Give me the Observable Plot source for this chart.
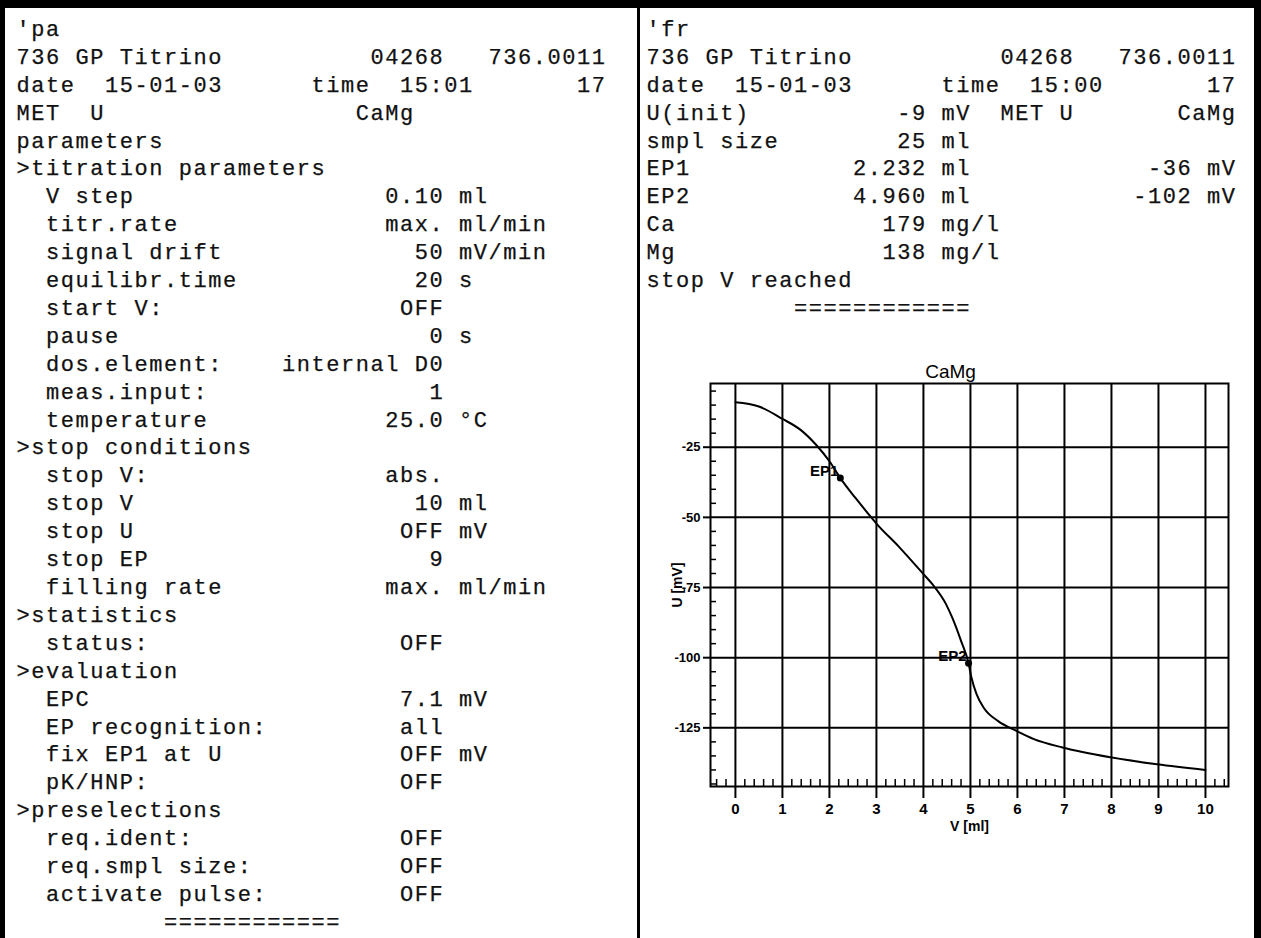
<!DOCTYPE html>
<html>
<head>
<meta charset="utf-8">
<script src="https://cdn.jsdelivr.net/npm/d3@7"></script>
<script src="https://cdn.jsdelivr.net/npm/@observablehq/plot@0.6"></script>
<style>
  html, body { margin: 0; padding: 0; background: #fff; }
  #page { position: relative; width: 1261px; height: 938px; overflow: hidden; background: #fff; }
  .bar { position: absolute; background: #000; z-index: 5; }
  pre.print {
    position: absolute; margin: 0; z-index: 3;
    font-family: "Liberation Mono", "DejaVu Sans Mono", monospace;
    font-size: 22px; letter-spacing: 1.55px; line-height: 27.9px;
    color: #111; white-space: pre; -webkit-text-stroke: 0.25px #111;
  }
  #chart { position: absolute; left: 640px; top: 340px; z-index: 2; }
</style>
</head>
<body>
<div id="page">
  <pre class="print" id="leftText" style="left:16.5px; top:16.9px;"></pre>
  <pre class="print" id="rightText" style="left:646.5px; top:16.9px;"></pre>
  <div id="chart"></div>
  <div class="bar" style="left:0; top:0; width:1261px; height:8px;"></div>
  <div class="bar" style="left:0; top:0; width:5px; height:938px;"></div>
  <div class="bar" style="left:637px; top:0; width:3px; height:938px;"></div>
  <div class="bar" style="left:1254px; top:0; width:7px; height:938px;"></div>
</div>
<script>
// ---------- printout text (column, text) ----------
const leftRows = [
  [[0, "'pa"]],
  [[0, "736 GP Titrino"], [24, "04268"], [32, "736.0011"]],
  [[0, "date  15-01-03"], [20, "time  15:01"], [38, "17"]],
  [[0, "MET  U"], [23, "CaMg"]],
  [[0, "parameters"]],
  [[0, ">titration parameters"]],
  [[2, "V step"], [25, "0.10 ml"]],
  [[2, "titr.rate"], [25, "max. ml/min"]],
  [[2, "signal drift"], [27, "50 mV/min"]],
  [[2, "equilibr.time"], [27, "20 s"]],
  [[2, "start V:"], [26, "OFF"]],
  [[2, "pause"], [28, "0 s"]],
  [[2, "dos.element:"], [18, "internal D0"]],
  [[2, "meas.input:"], [28, "1"]],
  [[2, "temperature"], [25, "25.0 °C"]],
  [[0, ">stop conditions"]],
  [[2, "stop V:"], [25, "abs."]],
  [[2, "stop V"], [27, "10 ml"]],
  [[2, "stop U"], [26, "OFF mV"]],
  [[2, "stop EP"], [28, "9"]],
  [[2, "filling rate"], [25, "max. ml/min"]],
  [[0, ">statistics"]],
  [[2, "status:"], [26, "OFF"]],
  [[0, ">evaluation"]],
  [[2, "EPC"], [26, "7.1 mV"]],
  [[2, "EP recognition:"], [26, "all"]],
  [[2, "fix EP1 at U"], [26, "OFF mV"]],
  [[2, "pK/HNP:"], [26, "OFF"]],
  [[0, ">preselections"]],
  [[2, "req.ident:"], [26, "OFF"]],
  [[2, "req.smpl size:"], [26, "OFF"]],
  [[2, "activate pulse:"], [26, "OFF"]],
  [[10, "============"]]
];
const rightRows = [
  [[0, "'fr"]],
  [[0, "736 GP Titrino"], [24, "04268"], [32, "736.0011"]],
  [[0, "date  15-01-03"], [20, "time  15:00"], [38, "17"]],
  [[0, "U(init)"], [17, "-9 mV  MET U"], [36, "CaMg"]],
  [[0, "smpl size"], [17, "25 ml"]],
  [[0, "EP1"], [14, "2.232 ml"], [34, "-36 mV"]],
  [[0, "EP2"], [14, "4.960 ml"], [33, "-102 mV"]],
  [[0, "Ca"], [16, "179 mg/l"]],
  [[0, "Mg"], [16, "138 mg/l"]],
  [[0, "stop V reached"]],
  [[10, "============"]]
];

// ---------- titration curve data ----------
const volume = [0, 0.5, 1.0, 1.4, 1.73, 2.0, 2.232, 2.55, 2.84, 3.0, 3.48, 4.0, 4.19, 4.48, 4.62, 4.8, 4.96, 5.02, 5.13, 5.29, 5.59, 5.97, 6.35, 6.96, 7.98, 8.97, 10.0];
const potential = [-9, -10.5, -14.9, -19, -24.4, -30.0, -36, -43.0, -49.0, -52.2, -60.5, -70.2, -73.8, -80.9, -86.0, -94, -102, -107, -113, -118, -122.6, -126, -129, -132, -135.5, -138, -140];

const epLabels = ["EP1", "EP2"];
const epVolume = [2.232, 4.960];
const epPotential = [-36, -102];

const xTicks = [0, 1, 2, 3, 4, 5, 6, 7, 8, 9, 10];
const yTicks = [-25, -50, -75, -100, -125];
const chartTitle = "CaMg";
const xLabel = "V [ml]";
const yLabel = "U [mV]";

// ---------- build text ----------
function rowText(segs) {
  let s = "";
  for (const [col, t] of segs) { s = s.padEnd(col, " ") + t; }
  return s;
}
document.getElementById("leftText").textContent = leftRows.map(rowText).join("\n");
document.getElementById("rightText").textContent = rightRows.map(rowText).join("\n");

// ---------- chart ----------
const W = 621, H = 520, mL = 70, mR = 33, mT = 43, mB = 74;
const xDom = [-0.53, 10.49];
const yDom = [-145.9, -2.3];
const pxPerX = (W - mL - mR) / (xDom[1] - xDom[0]);
const pxPerY = (H - mT - mB) / (yDom[1] - yDom[0]);

const curve = volume.map((v, i) => ({v, u: potential[i]}));
const eps = epLabels.map((l, i) => ({label: l, v: epVolume[i], u: epPotential[i]}));
const xMinor = d3.range(-2, 53).map(i => i * 0.2).filter(v => Math.abs(v - Math.round(v)) > 1e-6 && v > xDom[0] && v < xDom[1]);
const yMinor = d3.range(-29, 0).map(i => i * 5).filter(v => v % 25 !== 0 && v > yDom[0] && v < yDom[1]);

const font = "Liberation Sans, Arial, sans-serif";
const chart = Plot.plot({
  width: W, height: H,
  marginLeft: mL, marginRight: mR, marginTop: mT, marginBottom: mB,
  style: {background: "transparent", color: "#000", fontFamily: font},
  x: {domain: xDom, axis: null},
  y: {domain: yDom, axis: null},
  marks: [
    Plot.gridX(xTicks, {stroke: "#000", strokeOpacity: 1, strokeWidth: 2}),
    Plot.gridY(yTicks, {stroke: "#000", strokeOpacity: 1, strokeWidth: 2}),
    // major ticks poking out of the frame
    Plot.ruleX(xTicks, {x: d => d, y1: yDom[0], y2: yDom[0] - 12 / pxPerY, stroke: "#000", strokeWidth: 2}),
    Plot.ruleY(yTicks, {y: d => d, x1: xDom[0], x2: xDom[0] - 7 / pxPerX, stroke: "#000", strokeWidth: 2}),
    // minor ticks inside the frame
    Plot.ruleX(xMinor, {x: d => d, y1: yDom[0], y2: yDom[0] + 7 / pxPerY, stroke: "#000", strokeWidth: 1.5}),
    Plot.ruleY(yMinor, {y: d => d, x1: xDom[0], x2: xDom[0] + 6 / pxPerX, stroke: "#000", strokeWidth: 1.5}),
    // tick labels
    Plot.text(xTicks, {x: d => d, text: d => String(d), frameAnchor: "bottom", lineAnchor: "middle", dy: 23, fontSize: 15, fontWeight: "bold"}),
    Plot.text(yTicks, {y: d => d, text: d => String(d), frameAnchor: "left", textAnchor: "end", lineAnchor: "middle", dx: -10, fontSize: 13, fontWeight: "bold"}),
    Plot.frame({stroke: "#000", strokeWidth: 2}),
    Plot.line(curve, {x: "v", y: "u", curve: "monotone-x", stroke: "#000", strokeWidth: 2}),
    Plot.dot(eps, {x: "v", y: "u", r: 3.5, fill: "#000"}),
    Plot.text(eps, {x: "v", y: "u", text: "label", textAnchor: "end", dx: -2, dy: -7, fontSize: 15, fontWeight: "bold"}),
    Plot.text([chartTitle], {text: d => d, frameAnchor: "top", lineAnchor: "middle", textAnchor: "middle", dy: -12, dx: -19, fontSize: 19}),
    Plot.text([xLabel], {text: d => d, frameAnchor: "bottom", lineAnchor: "middle", textAnchor: "middle", dy: 40, fontSize: 14, fontWeight: "bold"}),
    Plot.text([yLabel], {text: d => d, frameAnchor: "left", lineAnchor: "middle", textAnchor: "middle", dx: -33, rotate: -90, fontSize: 14, fontWeight: "bold"})
  ]
});
document.getElementById("chart").appendChild(chart);
</script>
</body>
</html>
